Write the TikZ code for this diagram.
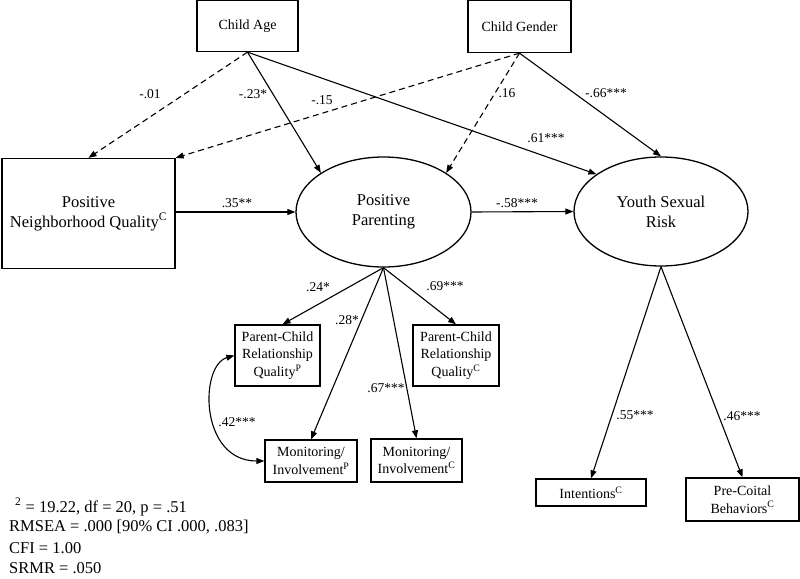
\documentclass[tikz,border=0pt]{standalone}
\usepackage{fontspec}
\setmainfont{Liberation Serif}
\usetikzlibrary{arrows.meta,shapes.geometric}
\tikzset{
  box/.style={draw, line width=1.3pt, rectangle, inner sep=0pt, align=center,
    font=\fontsize{14}{17.5}\selectfont},
  bigbox/.style={box, font=\fontsize{16.5}{20}\selectfont},
  lat/.style={draw, line width=1.3pt, ellipse, inner sep=0pt, align=center,
    font=\fontsize{16.5}{20}\selectfont},
  path/.style={line width=1.1pt, -{Triangle[length=8pt,width=6pt]}},
  dpath/.style={path, dash pattern=on 6pt off 4pt},
  lbl/.style={inner sep=0pt, font=\fontsize{13.5}{16}\selectfont},
  fit/.style={inner sep=0pt, anchor=west, font=\fontsize{16.5}{20}\selectfont}
}
\begin{document}
\begin{tikzpicture}[x=1pt,y=-1pt]
\useasboundingbox (0,0) rectangle (800,578);
% nodes
\node[box, minimum width=101pt, minimum height=51pt] (age) at (247.5,26) {Child Age};
\node[box, minimum width=103pt, minimum height=52pt] (gen) at (519.5,26.5) {Child Gender};
\node[bigbox, minimum width=173pt, minimum height=110pt] (nbh) at (88.5,213.5) {Positive\\Neighborhood Quality\textsuperscript{C}};
\node[lat, minimum width=175pt, minimum height=110pt] (par) at (383.5,212) {Positive\\Parenting};
\node[lat, minimum width=174pt, minimum height=109pt] (ysr) at (661,211.5) {Youth Sexual\\Risk};
\node[box, minimum width=85pt, minimum height=61pt] (pcp) at (277.5,355.5) {Parent-Child\\Relationship\\Quality\textsuperscript{P}};
\node[box, minimum width=86pt, minimum height=61pt] (pcc) at (456,355.5) {Parent-Child\\Relationship\\Quality\textsuperscript{C}};
\node[box, minimum width=92pt, minimum height=42pt] (monp) at (311,461) {Monitoring/\\Involvement\textsuperscript{P}};
\node[box, minimum width=91pt, minimum height=43pt] (monc) at (416.5,460.5) {Monitoring/\\Involvement\textsuperscript{C}};
\node[box, minimum width=110pt, minimum height=27pt] (int) at (591,492.5) {Intentions\textsuperscript{C}};
\node[box, minimum width=113pt, minimum height=43pt] (pre) at (742.5,499.5) {Pre-Coital\\Behaviors\textsuperscript{C}};
% paths
\draw[dpath] (age.south) -- (nbh.north);
\draw[dpath] (gen.south) -- (nbh.north east);
\draw[path] (age.south) -- (par.148);
\draw[dpath] (gen.south) -- (par.32);
\draw[path] (age.south) -- (ysr.150);
\draw[path] (gen.south) -- (ysr.north);
\draw[path] (nbh.east |- par.west) -- (par.west);
\draw[path] (par.east) -- (ysr.west);
\draw[path] (par.south) -- ([xshift=5pt]pcp.north);
\draw[path] (par.south) -- (monp.north);
\draw[path] (par.south) -- (monc.north);
\draw[path] (par.south) -- (pcc.north);
\draw[path] (ysr.south) -- (int.north);
\draw[path] (ysr.south) -- (pre.north);
\draw[line width=1.1pt, {Triangle[length=8pt,width=6pt]}-{Triangle[length=8pt,width=6pt]}]
  (pcp.west) .. controls +(-35,10) and +(-65,0) .. (monp.west);
% labels
\node[lbl] (l1) at (150,94) {-.01};
\node[lbl] (l2) at (253,94) {-.23*};
\node[lbl] (l3) at (322,100) {-.15};
\node[lbl] (l4) at (507,93) {.16};
\node[lbl] (l5) at (606,93) {-.66***};
\node[lbl] (l6) at (546,138) {.61***};
\node[lbl] (l7) at (237,203) {.35**};
\node[lbl] (l8) at (517,203) {-.58***};
\node[lbl] (l9) at (318,287) {.24*};
\node[lbl] (l10) at (347,320) {.28*};
\node[lbl] (l11) at (386,388) {.67***};
\node[lbl] (l12) at (445,286) {.69***};
\node[lbl] (l13) at (237,422) {.42***};
\node[lbl] (l14) at (635,415) {.55***};
\node[lbl] (l15) at (742,416) {.46***};
% fit
\node[fit] (f1) at (15,507) {\textsuperscript{2} = 19.22, df = 20, p = .51};
\node[fit] (f2) at (9,527.5) {RMSEA = .000 [90\% CI .000, .083]};
\node[fit] (f3) at (9,548) {CFI = 1.00};
\node[fit] (f4) at (9,568) {SRMR = .050};
\end{tikzpicture}
\end{document}
